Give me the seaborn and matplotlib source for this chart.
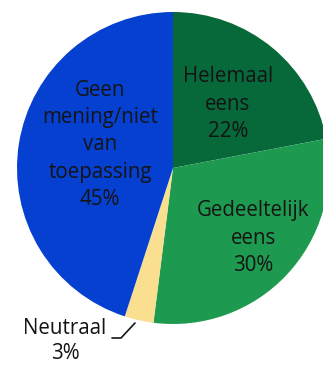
import matplotlib
matplotlib.use("Agg")
import matplotlib.pyplot as plt
import seaborn as sns
import numpy as np

sns.set_theme(style="white")
plt.rcParams["font.family"] = ["Open Sans", "DejaVu Sans"]

# Survey answer shares (%)
categories = ["Helemaal\neens", "Gedeeltelijk\neens", "Neutraal", "Geen\nmening/niet\nvan\ntoepassing"]
values = [22, 30, 3, 45]
colors = ["#07693A", "#1E9A50", "#FBDF90", "#0540D0"]

W, H = 323, 365
fig = plt.figure(figsize=(W / 100, H / 100), dpi=100)
ax = fig.add_axes([0, 0, 1, 1])

# Pie geometry in pixels: centre and radius
cx, cy, r = 173, 168, 156

wedges, _ = ax.pie(values, colors=colors, startangle=90, counterclock=False,
                   radius=1, center=(0, 0), wedgeprops=dict(linewidth=0))

ax.set_xlim(-cx / r, (W - cx) / r)
ax.set_ylim(-(H - cy) / r, cy / r)
ax.set_aspect("equal")
ax.axis("off")

def to_data(px, py):
    return (px - cx) / r, (cy - py) / r

# Label anchor points (pixel centres of each text block)
label_px = [(228, 104), (253, 238), (65, 341), (100, 145)]
spacing = [1.4, 1.4, 1.3, 1.4]
text_color = "#141414"
for cat, val, (px, py), ls in zip(categories, values, label_px, spacing):
    x, y = to_data(px, py)
    ax.text(x, y, f"{cat}\n{val}%", ha="center", va="center",
            fontsize=14.8, color=text_color, linespacing=ls)

# Leader line for the small slice
lx = [112, 121, 135]
ly = [338, 338, 323]
pts = [to_data(a, b) for a, b in zip(lx, ly)]
ax.plot([p[0] for p in pts], [p[1] for p in pts], color=text_color, lw=1.2)

fig.savefig("out.png", dpi=100)
